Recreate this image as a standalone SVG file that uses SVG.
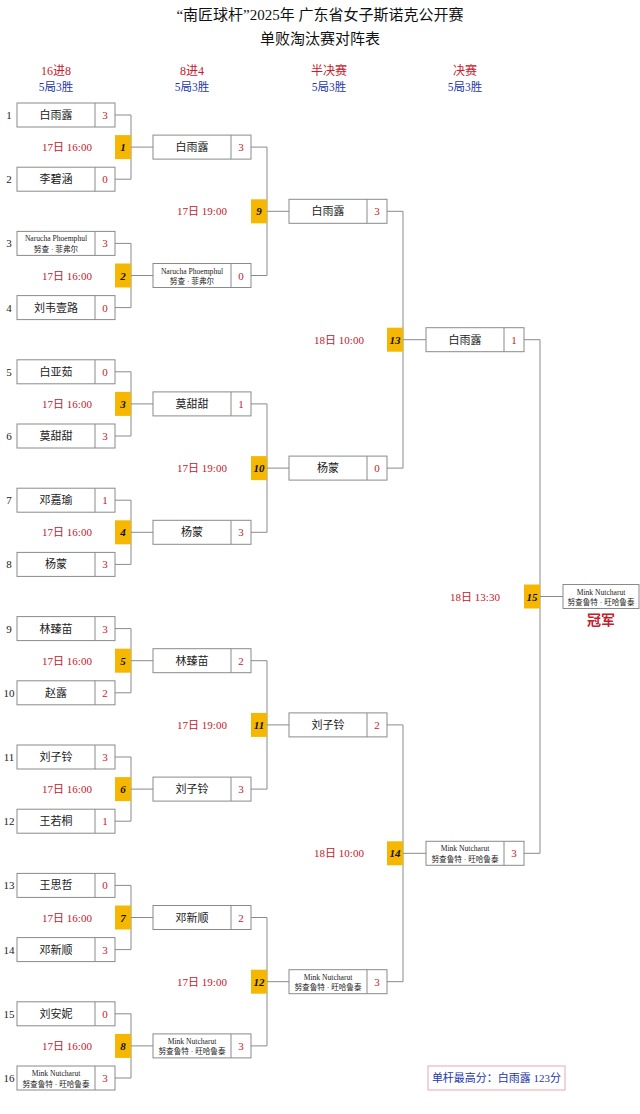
<svg xmlns="http://www.w3.org/2000/svg" width="640" height="1114" viewBox="0 0 640 1114">
<style>
text{font-family:"Liberation Serif","Noto Sans CJK SC",serif;}
.box{fill:#fff;stroke:#8a8a8a;stroke-width:1;}
.div{stroke:#8a8a8a;stroke-width:1;}
.nm{font-size:11px;fill:#222;text-anchor:middle;}
.sm{font-size:7.6px;fill:#222;text-anchor:middle;}
.sc{font-size:11px;fill:#c4202c;text-anchor:middle;}
.seed{font-size:11px;fill:#222;text-anchor:middle;}
.mb{fill:#f6b700;}
.mn{font-size:11px;fill:#111;text-anchor:middle;font-style:italic;font-weight:bold;}
.dt{font-size:11px;fill:#c4202c;text-anchor:middle;}
.rd{font-size:12px;fill:#c4202c;text-anchor:middle;}
.bl{font-size:11.5px;fill:#2436a8;text-anchor:middle;}
.ttl{font-size:15px;fill:#111;text-anchor:middle;}
.con{fill:none;stroke:#8a8a8a;stroke-width:1;}
</style>
<rect width="640" height="1114" fill="#fff"/>
<g id="header">
<text class="ttl" x="320" y="20">“南匠球杆”2025年 广东省女子斯诺克公开赛</text>
<text class="ttl" x="320" y="44">单败淘汰赛对阵表</text>
<text class="rd" x="56" y="75">16进8</text><text class="bl" x="56" y="91">5局3胜</text>
<text class="rd" x="192" y="75">8进4</text><text class="bl" x="192" y="91">5局3胜</text>
<text class="rd" x="329" y="75">半决赛</text><text class="bl" x="329" y="91">5局3胜</text>
<text class="rd" x="465" y="75">决赛</text><text class="bl" x="465" y="91">5局3胜</text>
</g>
<g id="connectors">
<path class="con" d="M115,115 H131 V179.2 H115 M131,147.1 H153"/>
<path class="con" d="M115,243.4 H131 V307.6 H115 M131,275.5 H153"/>
<path class="con" d="M115,371.8 H131 V436 H115 M131,403.9 H153"/>
<path class="con" d="M115,500.2 H131 V564.4 H115 M131,532.3 H153"/>
<path class="con" d="M115,628.6 H131 V692.8 H115 M131,660.7 H153"/>
<path class="con" d="M115,757 H131 V821.2 H115 M131,789.1 H153"/>
<path class="con" d="M115,885.4 H131 V949.6 H115 M131,917.5 H153"/>
<path class="con" d="M115,1013.8 H131 V1078 H115 M131,1045.9 H153"/>
<path class="con" d="M251,147.1 H267 V275.5 H251 M267,211.3 H289"/>
<path class="con" d="M251,403.9 H267 V532.3 H251 M267,468.1 H289"/>
<path class="con" d="M251,660.7 H267 V789.1 H251 M267,724.9 H289"/>
<path class="con" d="M251,917.5 H267 V1045.9 H251 M267,981.7 H289"/>
<path class="con" d="M387,211.3 H403 V468.1 H387 M403,339.7 H426"/>
<path class="con" d="M387,724.9 H403 V981.7 H387 M403,853.3 H426"/>
<path class="con" d="M524,339.7 H540 V853.3 H524 M540,596.5 H563"/>
</g>
<g id="seeds">
<text class="seed" x="9" y="119">1</text>
<text class="seed" x="9" y="183.2">2</text>
<text class="seed" x="9" y="247.4">3</text>
<text class="seed" x="9" y="311.6">4</text>
<text class="seed" x="9" y="375.8">5</text>
<text class="seed" x="9" y="440">6</text>
<text class="seed" x="9" y="504.2">7</text>
<text class="seed" x="9" y="568.4">8</text>
<text class="seed" x="9" y="632.6">9</text>
<text class="seed" x="9" y="696.8">10</text>
<text class="seed" x="9" y="761">11</text>
<text class="seed" x="9" y="825.2">12</text>
<text class="seed" x="9" y="889.4">13</text>
<text class="seed" x="9" y="953.6">14</text>
<text class="seed" x="9" y="1017.8">15</text>
<text class="seed" x="9" y="1082">16</text>
</g>
<g id="r1-1" transform="translate(17,103)"><rect class="box" width="98" height="24"/><line class="div" x1="78" y1="0" x2="78" y2="24"/><text class="nm" x="39" y="16">白雨露</text><text class="sc" x="88" y="16">3</text></g>
<g id="r1-2" transform="translate(17,167.2)"><rect class="box" width="98" height="24"/><line class="div" x1="78" y1="0" x2="78" y2="24"/><text class="nm" x="39" y="16">李碧涵</text><text class="sc" x="88" y="16">0</text></g>
<g id="r1-3" transform="translate(17,231.4)"><rect class="box" width="98" height="24"/><line class="div" x1="78" y1="0" x2="78" y2="24"/><text class="sm" x="39" y="10">Narucha Phoemphul</text><text class="sm" x="39" y="20.5">努查 · 菲弗尔</text><text class="sc" x="88" y="16">3</text></g>
<g id="r1-4" transform="translate(17,295.6)"><rect class="box" width="98" height="24"/><line class="div" x1="78" y1="0" x2="78" y2="24"/><text class="nm" x="39" y="16">刘韦壹路</text><text class="sc" x="88" y="16">0</text></g>
<g id="r1-5" transform="translate(17,359.8)"><rect class="box" width="98" height="24"/><line class="div" x1="78" y1="0" x2="78" y2="24"/><text class="nm" x="39" y="16">白亚茹</text><text class="sc" x="88" y="16">0</text></g>
<g id="r1-6" transform="translate(17,424)"><rect class="box" width="98" height="24"/><line class="div" x1="78" y1="0" x2="78" y2="24"/><text class="nm" x="39" y="16">莫甜甜</text><text class="sc" x="88" y="16">3</text></g>
<g id="r1-7" transform="translate(17,488.2)"><rect class="box" width="98" height="24"/><line class="div" x1="78" y1="0" x2="78" y2="24"/><text class="nm" x="39" y="16">邓嘉瑜</text><text class="sc" x="88" y="16">1</text></g>
<g id="r1-8" transform="translate(17,552.4)"><rect class="box" width="98" height="24"/><line class="div" x1="78" y1="0" x2="78" y2="24"/><text class="nm" x="39" y="16">杨蒙</text><text class="sc" x="88" y="16">3</text></g>
<g id="r1-9" transform="translate(17,616.6)"><rect class="box" width="98" height="24"/><line class="div" x1="78" y1="0" x2="78" y2="24"/><text class="nm" x="39" y="16">林臻苗</text><text class="sc" x="88" y="16">3</text></g>
<g id="r1-10" transform="translate(17,680.8)"><rect class="box" width="98" height="24"/><line class="div" x1="78" y1="0" x2="78" y2="24"/><text class="nm" x="39" y="16">赵露</text><text class="sc" x="88" y="16">2</text></g>
<g id="r1-11" transform="translate(17,745)"><rect class="box" width="98" height="24"/><line class="div" x1="78" y1="0" x2="78" y2="24"/><text class="nm" x="39" y="16">刘子铃</text><text class="sc" x="88" y="16">3</text></g>
<g id="r1-12" transform="translate(17,809.2)"><rect class="box" width="98" height="24"/><line class="div" x1="78" y1="0" x2="78" y2="24"/><text class="nm" x="39" y="16">王若桐</text><text class="sc" x="88" y="16">1</text></g>
<g id="r1-13" transform="translate(17,873.4)"><rect class="box" width="98" height="24"/><line class="div" x1="78" y1="0" x2="78" y2="24"/><text class="nm" x="39" y="16">王思哲</text><text class="sc" x="88" y="16">0</text></g>
<g id="r1-14" transform="translate(17,937.6)"><rect class="box" width="98" height="24"/><line class="div" x1="78" y1="0" x2="78" y2="24"/><text class="nm" x="39" y="16">邓新顺</text><text class="sc" x="88" y="16">3</text></g>
<g id="r1-15" transform="translate(17,1001.8)"><rect class="box" width="98" height="24"/><line class="div" x1="78" y1="0" x2="78" y2="24"/><text class="nm" x="39" y="16">刘安妮</text><text class="sc" x="88" y="16">0</text></g>
<g id="r1-16" transform="translate(17,1066)"><rect class="box" width="98" height="24"/><line class="div" x1="78" y1="0" x2="78" y2="24"/><text class="sm" x="39" y="10">Mink Nutcharut</text><text class="sm" x="39" y="20.5">努查鲁特 · 旺哈鲁泰</text><text class="sc" x="88" y="16">3</text></g>
<g id="r2-1" transform="translate(153,135.1)"><rect class="box" width="98" height="24"/><line class="div" x1="78" y1="0" x2="78" y2="24"/><text class="nm" x="39" y="16">白雨露</text><text class="sc" x="88" y="16">3</text></g>
<g id="r2-2" transform="translate(153,263.5)"><rect class="box" width="98" height="24"/><line class="div" x1="78" y1="0" x2="78" y2="24"/><text class="sm" x="39" y="10">Narucha Phoemphul</text><text class="sm" x="39" y="20.5">努查 · 菲弗尔</text><text class="sc" x="88" y="16">0</text></g>
<g id="r2-3" transform="translate(153,391.9)"><rect class="box" width="98" height="24"/><line class="div" x1="78" y1="0" x2="78" y2="24"/><text class="nm" x="39" y="16">莫甜甜</text><text class="sc" x="88" y="16">1</text></g>
<g id="r2-4" transform="translate(153,520.3)"><rect class="box" width="98" height="24"/><line class="div" x1="78" y1="0" x2="78" y2="24"/><text class="nm" x="39" y="16">杨蒙</text><text class="sc" x="88" y="16">3</text></g>
<g id="r2-5" transform="translate(153,648.7)"><rect class="box" width="98" height="24"/><line class="div" x1="78" y1="0" x2="78" y2="24"/><text class="nm" x="39" y="16">林臻苗</text><text class="sc" x="88" y="16">2</text></g>
<g id="r2-6" transform="translate(153,777.1)"><rect class="box" width="98" height="24"/><line class="div" x1="78" y1="0" x2="78" y2="24"/><text class="nm" x="39" y="16">刘子铃</text><text class="sc" x="88" y="16">3</text></g>
<g id="r2-7" transform="translate(153,905.5)"><rect class="box" width="98" height="24"/><line class="div" x1="78" y1="0" x2="78" y2="24"/><text class="nm" x="39" y="16">邓新顺</text><text class="sc" x="88" y="16">2</text></g>
<g id="r2-8" transform="translate(153,1033.9)"><rect class="box" width="98" height="24"/><line class="div" x1="78" y1="0" x2="78" y2="24"/><text class="sm" x="39" y="10">Mink Nutcharut</text><text class="sm" x="39" y="20.5">努查鲁特 · 旺哈鲁泰</text><text class="sc" x="88" y="16">3</text></g>
<g id="r3-1" transform="translate(289,199.3)"><rect class="box" width="98" height="24"/><line class="div" x1="78" y1="0" x2="78" y2="24"/><text class="nm" x="39" y="16">白雨露</text><text class="sc" x="88" y="16">3</text></g>
<g id="r3-2" transform="translate(289,456.1)"><rect class="box" width="98" height="24"/><line class="div" x1="78" y1="0" x2="78" y2="24"/><text class="nm" x="39" y="16">杨蒙</text><text class="sc" x="88" y="16">0</text></g>
<g id="r3-3" transform="translate(289,712.9)"><rect class="box" width="98" height="24"/><line class="div" x1="78" y1="0" x2="78" y2="24"/><text class="nm" x="39" y="16">刘子铃</text><text class="sc" x="88" y="16">2</text></g>
<g id="r3-4" transform="translate(289,969.7)"><rect class="box" width="98" height="24"/><line class="div" x1="78" y1="0" x2="78" y2="24"/><text class="sm" x="39" y="10">Mink Nutcharut</text><text class="sm" x="39" y="20.5">努查鲁特 · 旺哈鲁泰</text><text class="sc" x="88" y="16">3</text></g>
<g id="f-1" transform="translate(426,327.7)"><rect class="box" width="98" height="24"/><line class="div" x1="78" y1="0" x2="78" y2="24"/><text class="nm" x="39" y="16">白雨露</text><text class="sc" x="88" y="16">1</text></g>
<g id="f-2" transform="translate(426,841.3)"><rect class="box" width="98" height="24"/><line class="div" x1="78" y1="0" x2="78" y2="24"/><text class="sm" x="39" y="10">Mink Nutcharut</text><text class="sm" x="39" y="20.5">努查鲁特 · 旺哈鲁泰</text><text class="sc" x="88" y="16">3</text></g>
<g id="champion" transform="translate(563,584.5)"><rect class="box" width="76" height="24"/><text class="sm" x="38" y="10">Mink Nutcharut</text><text class="sm" x="38" y="20.5">努查鲁特 · 旺哈鲁泰</text><text x="38" y="40" font-size="14" font-weight="bold" fill="#c4202c" text-anchor="middle">冠军</text></g>
<g id="m1"><rect class="mb" x="115" y="135.1" width="16" height="24"/><text class="mn" x="123" y="151.1">1</text><text class="dt" x="67" y="151.1">17日 16:00</text></g>
<g id="m2"><rect class="mb" x="115" y="263.5" width="16" height="24"/><text class="mn" x="123" y="279.5">2</text><text class="dt" x="67" y="279.5">17日 16:00</text></g>
<g id="m3"><rect class="mb" x="115" y="391.9" width="16" height="24"/><text class="mn" x="123" y="407.9">3</text><text class="dt" x="67" y="407.9">17日 16:00</text></g>
<g id="m4"><rect class="mb" x="115" y="520.3" width="16" height="24"/><text class="mn" x="123" y="536.3">4</text><text class="dt" x="67" y="536.3">17日 16:00</text></g>
<g id="m5"><rect class="mb" x="115" y="648.7" width="16" height="24"/><text class="mn" x="123" y="664.7">5</text><text class="dt" x="67" y="664.7">17日 16:00</text></g>
<g id="m6"><rect class="mb" x="115" y="777.1" width="16" height="24"/><text class="mn" x="123" y="793.1">6</text><text class="dt" x="67" y="793.1">17日 16:00</text></g>
<g id="m7"><rect class="mb" x="115" y="905.5" width="16" height="24"/><text class="mn" x="123" y="921.5" font-style="normal">7</text><text class="dt" x="67" y="921.5">17日 16:00</text></g>
<g id="m8"><rect class="mb" x="115" y="1033.9" width="16" height="24"/><text class="mn" x="123" y="1049.9">8</text><text class="dt" x="67" y="1049.9">17日 16:00</text></g>
<g id="m9"><rect class="mb" x="251" y="199.3" width="16" height="24"/><text class="mn" x="259" y="215.3">9</text><text class="dt" x="202" y="215.3">17日 19:00</text></g>
<g id="m10"><rect class="mb" x="251" y="456.1" width="16" height="24"/><text class="mn" x="259" y="472.1">10</text><text class="dt" x="202" y="472.1">17日 19:00</text></g>
<g id="m11"><rect class="mb" x="251" y="712.9" width="16" height="24"/><text class="mn" x="259" y="728.9">11</text><text class="dt" x="202" y="728.9">17日 19:00</text></g>
<g id="m12"><rect class="mb" x="251" y="969.7" width="16" height="24"/><text class="mn" x="259" y="985.7">12</text><text class="dt" x="202" y="985.7">17日 19:00</text></g>
<g id="m13"><rect class="mb" x="387" y="327.7" width="16" height="24"/><text class="mn" x="395" y="343.7">13</text><text class="dt" x="339" y="343.7">18日 10:00</text></g>
<g id="m14"><rect class="mb" x="387" y="841.3" width="16" height="24"/><text class="mn" x="395" y="857.3">14</text><text class="dt" x="339" y="857.3">18日 10:00</text></g>
<g id="m15"><rect class="mb" x="524" y="584.5" width="16" height="24"/><text class="mn" x="532" y="600.5">15</text><text class="dt" x="475" y="600.5">18日 13:30</text></g>
<g id="note"><rect x="428" y="1066" width="137" height="24" fill="#fff" stroke="#eaa8b0" stroke-width="1"/><text x="496.5" y="1082" font-size="11" fill="#2436a8" text-anchor="middle">单杆最高分：白雨露 123分</text></g>
</svg>
